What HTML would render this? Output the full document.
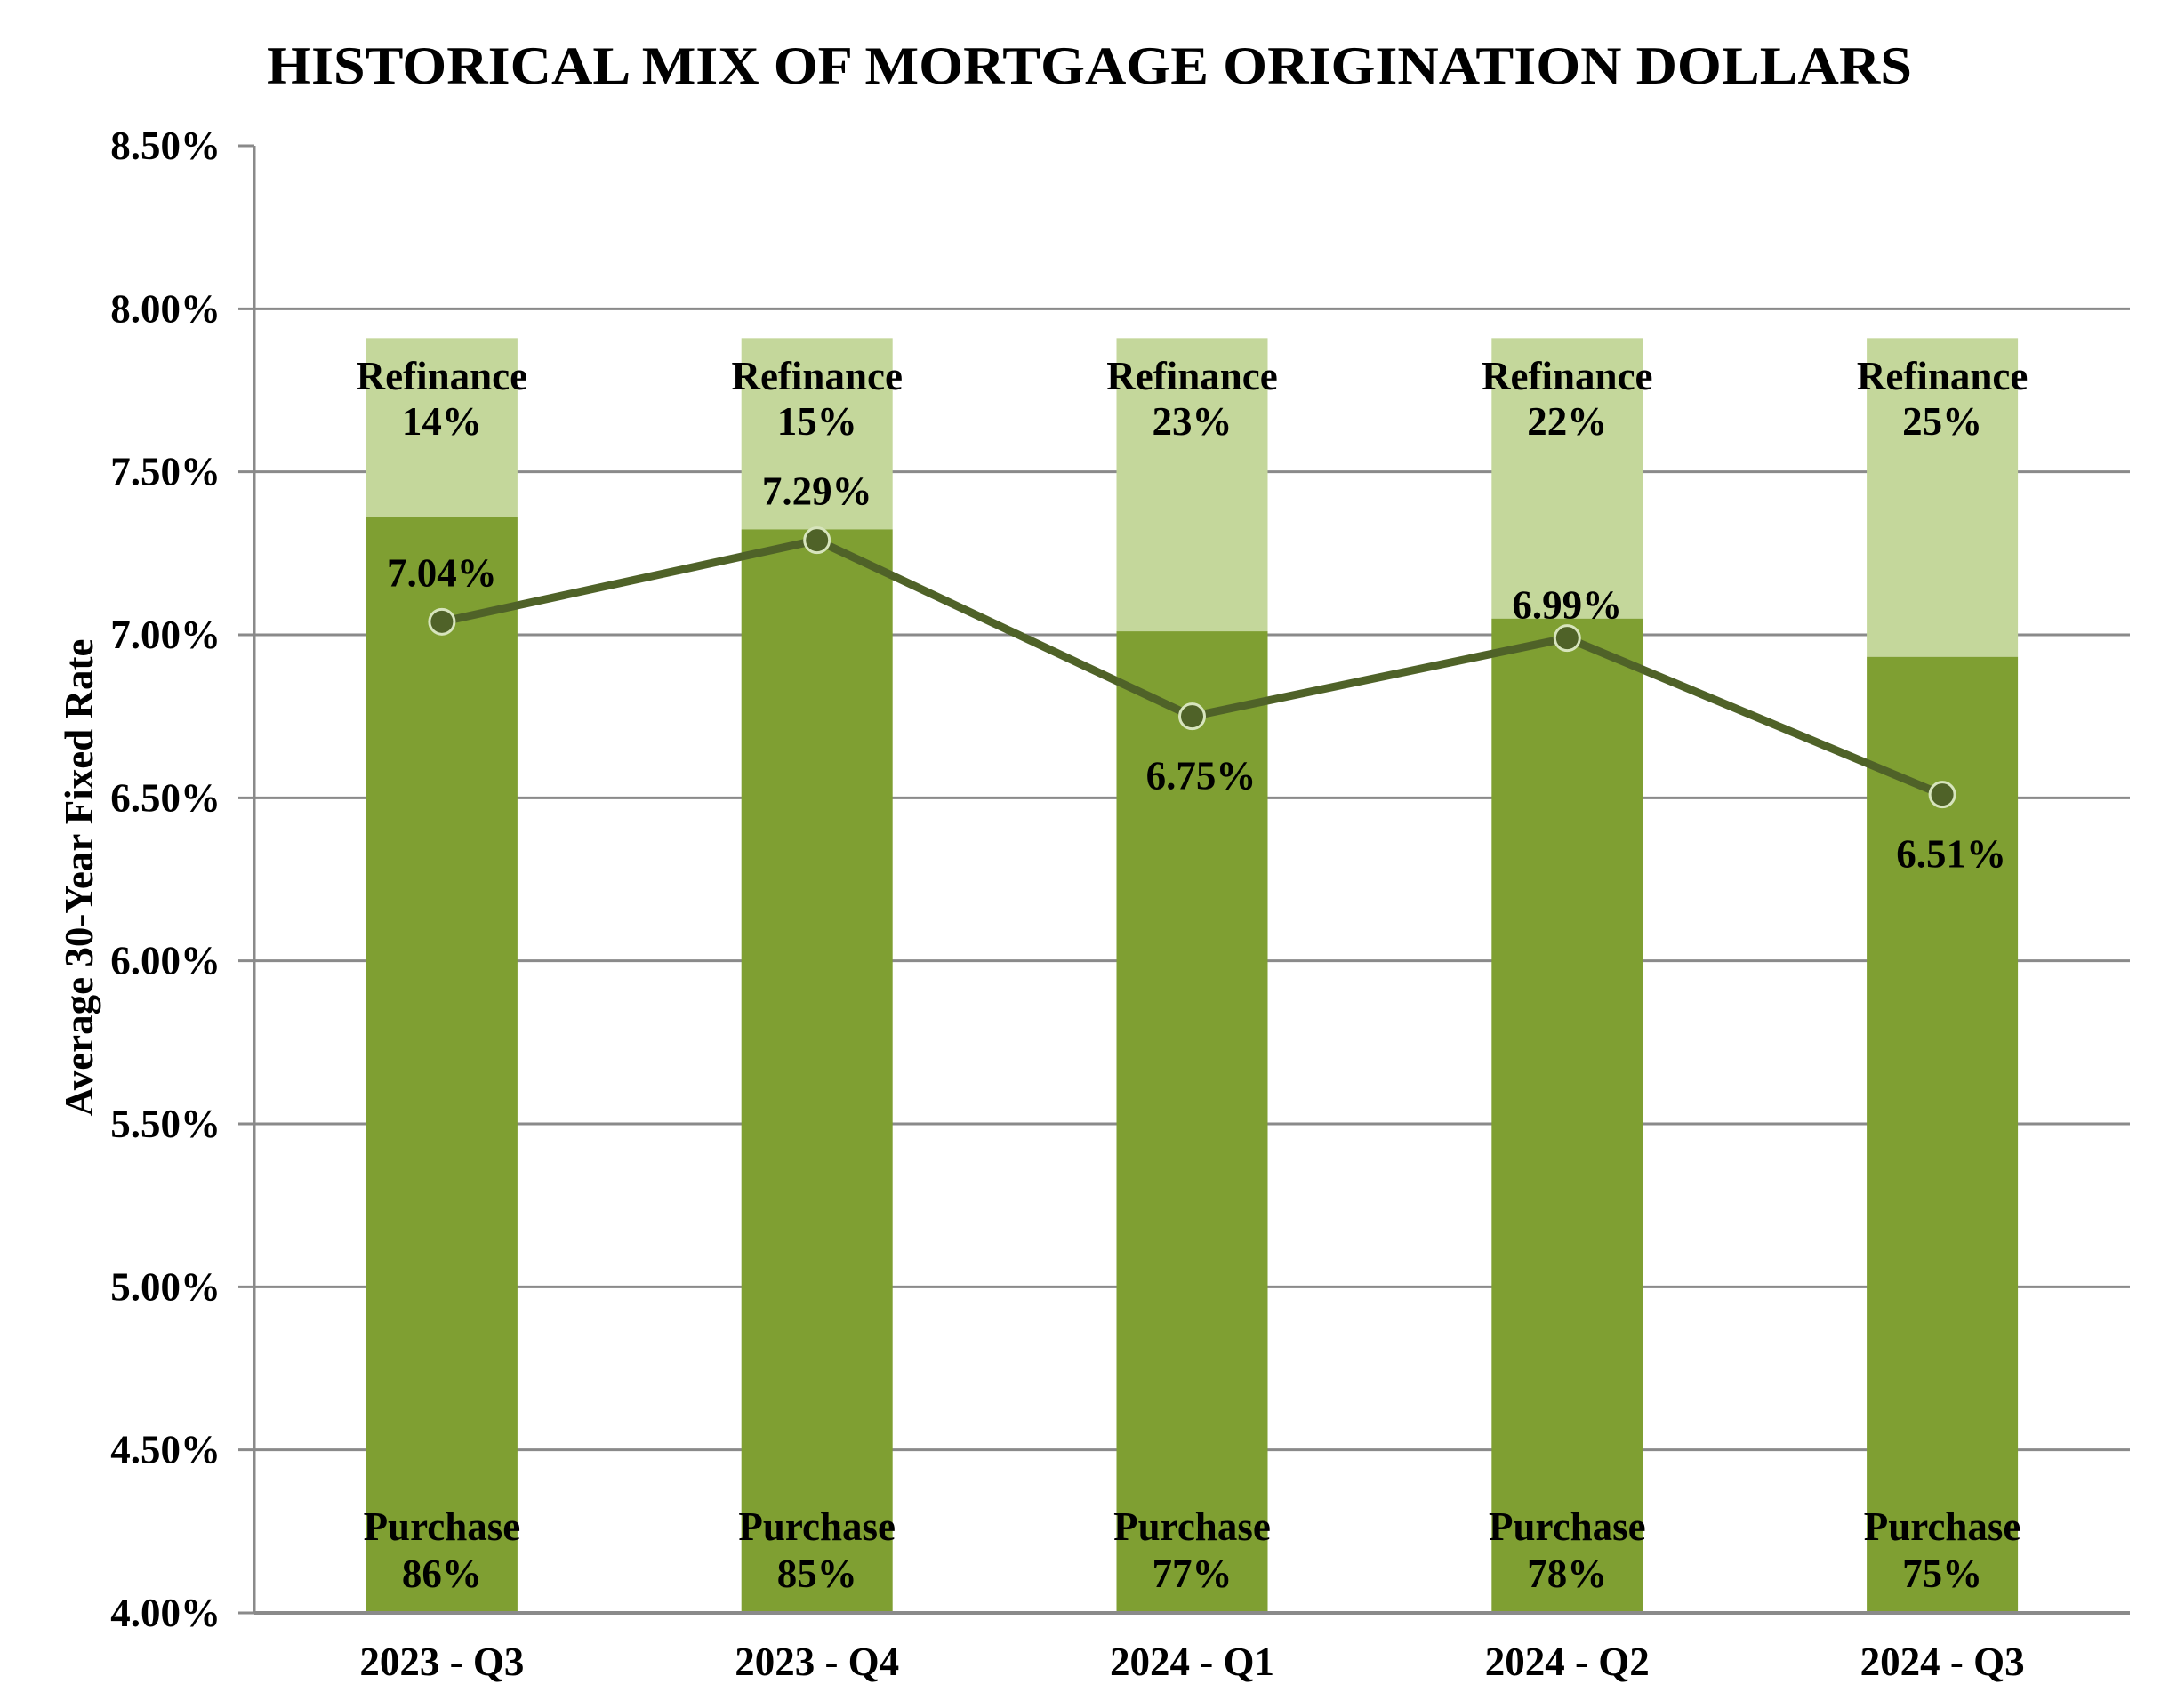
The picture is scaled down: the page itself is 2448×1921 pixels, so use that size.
<!DOCTYPE html>
<html><head><meta charset="utf-8"><style>
html,body{margin:0;padding:0;background:#fff;}
svg{display:block;font-family:"Liberation Serif",serif;font-weight:bold;}
</style></head><body>
<svg id="chart" width="2448" height="1921" viewBox="0 0 2448 1921" xmlns="http://www.w3.org/2000/svg">
<text x="1225" y="94" text-anchor="middle" font-size="60" textLength="1850" lengthAdjust="spacingAndGlyphs">HISTORICAL MIX OF MORTGAGE ORIGINATION DOLLARS</text>
<text transform="translate(104,987) rotate(-90)" text-anchor="middle" font-size="45">Average 30-Year Fixed Rate</text>
<g id="grid"></g><g id="bars"></g><g id="line"></g><g id="labels"></g>
</svg>
<script>
const categories = ["2023 - Q3","2023 - Q4","2024 - Q1","2024 - Q2","2024 - Q3"];
const purchaseShare = [86,85,77,78,75];
const refinanceShare = [14,15,23,22,25];
const rates = [7.04,7.29,6.75,6.99,6.51];
const rateLabelOffset = [-40,-40,82,-22,82];
const yTicks = [4.0,4.5,5.0,5.5,6.0,6.5,7.0,7.5,8.0,8.5];

const NS="http://www.w3.org/2000/svg";
const X0=286,X1=2395,Y_TOP=164,Y_BOT=1814,YMIN=4.0,YMAX=8.5,BAR_TOP_RATE=7.91;
function y(v){return Y_BOT-(v-YMIN)/(YMAX-YMIN)*(Y_BOT-Y_TOP);}
const band=(X1-X0)/categories.length;
function xc(i){return X0+band*(i+0.5);}
function shareY(pct){return y(YMIN+(BAR_TOP_RATE-YMIN)*pct/100);}
function mk(tag,attrs,parent,text){const e=document.createElementNS(NS,tag);for(const k in attrs)e.setAttribute(k,attrs[k]);if(text!==undefined)e.textContent=text;document.getElementById(parent).appendChild(e);return e;}

yTicks.forEach(t=>{
  const gy=y(t);
  if(t>YMIN && t<YMAX){const g=mk('line',{x1:X0,x2:X1,y1:gy,y2:gy,stroke:'#8a8a8a','stroke-width':3},'grid');
  
  }
  const tk=mk('line',{x1:X0-18,x2:X0,y1:gy,y2:gy,stroke:'#8a8a8a','stroke-width':3},'grid');
  
  
  const lb=mk('text',{x:248,y:gy+15,'text-anchor':'end','font-size':45},'grid',t.toFixed(2)+'%');
  
  
});
const ax=mk('line',{x1:X0,x2:X0,y1:Y_TOP,y2:Y_BOT,stroke:'#8a8a8a','stroke-width':3},'grid');



const bw=170;
categories.forEach((c,i)=>{
  const cx=xc(i);
  const pTop=shareY(purchaseShare[i]);
  const rTop=shareY(purchaseShare[i]+refinanceShare[i]);
  const rb=mk('rect',{x:cx-bw/2,y:rTop,width:bw,height:pTop-rTop,fill:'#c4d79b'},'bars');
  
  
  const pb=mk('rect',{x:cx-bw/2,y:pTop,width:bw,height:Y_BOT-pTop,fill:'#7f9f32'},'bars');
  
  
  const t1=mk('text',{x:cx,y:438,'text-anchor':'middle','font-size':45},'labels','Refinance');
  
  
  const t2=mk('text',{x:cx,y:489,'text-anchor':'middle','font-size':45},'labels',refinanceShare[i]+'%');
  
  
  const t3=mk('text',{x:cx,y:1732,'text-anchor':'middle','font-size':45},'labels','Purchase');
  
  
  const t4=mk('text',{x:cx,y:1785,'text-anchor':'middle','font-size':45},'labels',purchaseShare[i]+'%');
  
  
  const cl=mk('text',{x:cx,y:1884,'text-anchor':'middle','font-size':45},'labels',c);
  
  
});
const bx=mk('line',{x1:X0,x2:X1,y1:Y_BOT,y2:Y_BOT,stroke:'#8a8a8a','stroke-width':4},'bars');



const pts=rates.map((r,i)=>xc(i)+','+y(r)).join(' ');
const pl=mk('polyline',{points:pts,fill:'none',stroke:'#4f6228','stroke-width':9,'stroke-linejoin':'round'},'line');


rates.forEach((r,i)=>{
  const c=mk('circle',{cx:xc(i),cy:y(r),r:14,fill:'#4f6228',stroke:'#d7e4bd','stroke-width':3},'line');
  
  
  const t=mk('text',{x:xc(i)+(rateLabelOffset[i]>0?10:0),y:y(r)+rateLabelOffset[i],'text-anchor':'middle','font-size':45},'labels',r.toFixed(2)+'%');
  
  
});
</script>
</body></html>
